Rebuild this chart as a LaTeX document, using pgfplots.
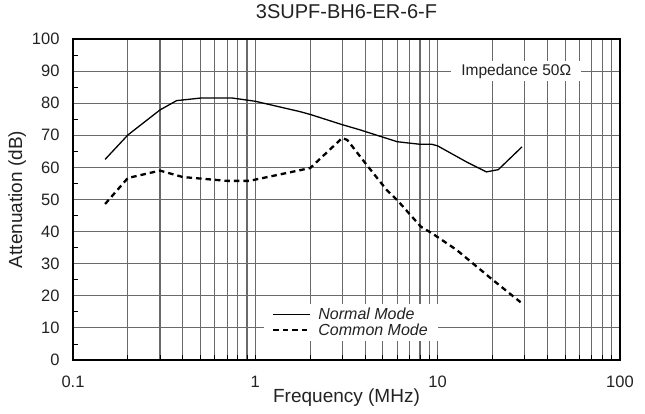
\documentclass[border=0pt]{standalone}
\usepackage{fontspec}
\setmainfont{Liberation Sans}
\usepackage{pgfplots}
\pgfplotsset{compat=1.18}

\definecolor{gridgray}{HTML}{6A6A6A}
\definecolor{txt}{HTML}{222222}

\begin{document}
\begin{tikzpicture}
\path[use as bounding box] (-73pt,-53pt) rectangle (572pt,360pt);
\begin{axis}[
    at={(0pt,0pt)}, anchor=south west,
    scale only axis, width=547pt, height=321pt,
    xmode=log, xmin=0.1, xmax=100, ymin=0, ymax=100,
    xtick={0.1,1,10,100}, xticklabels={0.1,1,10,100},
    ytick={0,10,20,30,40,50,60,70,80,90,100},
    yticklabels={0,10,20,30,40,50,60,70,80,90,100},
    minor ytick={5,15,25,35,45,55,65,75,85,95},
    xmajorgrids, xminorgrids, ymajorgrids,
    major grid style={gridgray, line width=1.1pt},
    minor grid style={gridgray, line width=1.1pt},
    axis line style={black, line width=1.4pt},
    major tick length=0pt, minor tick length=5pt,
    tick style={black, line width=0.8pt},
    xtick pos=bottom, ytick pos=left,
    ticklabel style={font=\fontsize{16.5}{19}\selectfont, text=txt},
    xticklabel style={anchor=center, yshift=-22pt},
    yticklabel style={anchor=east, xshift=-10pt},
    title={3SUPF-BH6-ER-6-F},
    title style={at={(axis description cs:0.5,1.068)}, anchor=center,
        font=\fontsize{20}{23}\selectfont, text=txt},
    xlabel={Frequency (MHz)},
    xlabel style={at={(axis description cs:0.5,-0.118)}, anchor=center,
        font=\fontsize{19}{22}\selectfont, text=txt},
    ylabel={Attenuation (dB)},
    ylabel style={at={(axis description cs:-0.102,0.5)}, anchor=center,
        font=\fontsize{19}{22}\selectfont, text=txt},
    legend style={at={(rel axis cs:0.349,0.059)}, anchor=south west,
        draw=none, fill=white, font=\fontsize{16}{18}\selectfont\itshape,
        text=txt, inner xsep=8pt, inner ysep=2pt, row sep=-1pt,
        /tikz/every odd column/.append style={column sep=5pt}},
    legend cell align=left,
    legend image code/.code={\draw[#1] plot coordinates {(0pt,0pt) (18pt,0pt) (37pt,0pt)};},
]
\addplot[black, line width=1.3pt] coordinates {
(0.15,62.5) (0.2,70.1) (0.3,77.9) (0.37,80.8) (0.5,81.6) (0.75,81.6)
(1.0,80.6) (1.75,77.4) (2.0,76.5) (3.0,73.3) (3.7,71.8) (6.0,68.0)
(8.0,67.2) (9.3,67.2) (10.0,66.7) (14.4,61.7) (18.5,58.6) (21.5,59.3)
(29,66.4)
};
\addlegendentry{Normal Mode}
\addplot[black, line width=2.3pt, dash pattern=on 5.5pt off 4pt] coordinates {
(0.15,48.6) (0.2,56.7) (0.3,59.0) (0.4,57.0) (0.7,55.8) (0.93,55.8)
(1.0,56.2) (2.0,59.8) (3.0,69.2) (3.2,68.5) (4.0,61.4) (5.25,53.0)
(6.0,49.8) (8.1,41.5) (9.3,39.5) (12.7,34.3) (20,25.0) (28.5,18.0)
};
\addlegendentry{Common Mode}
\node[fill=white, inner xsep=10pt, inner ysep=3pt, text=txt,
    font=\fontsize{15.5}{18}\selectfont] at (axis cs:27,90) {Impedance 50Ω};
\end{axis}
\end{tikzpicture}
\end{document}
